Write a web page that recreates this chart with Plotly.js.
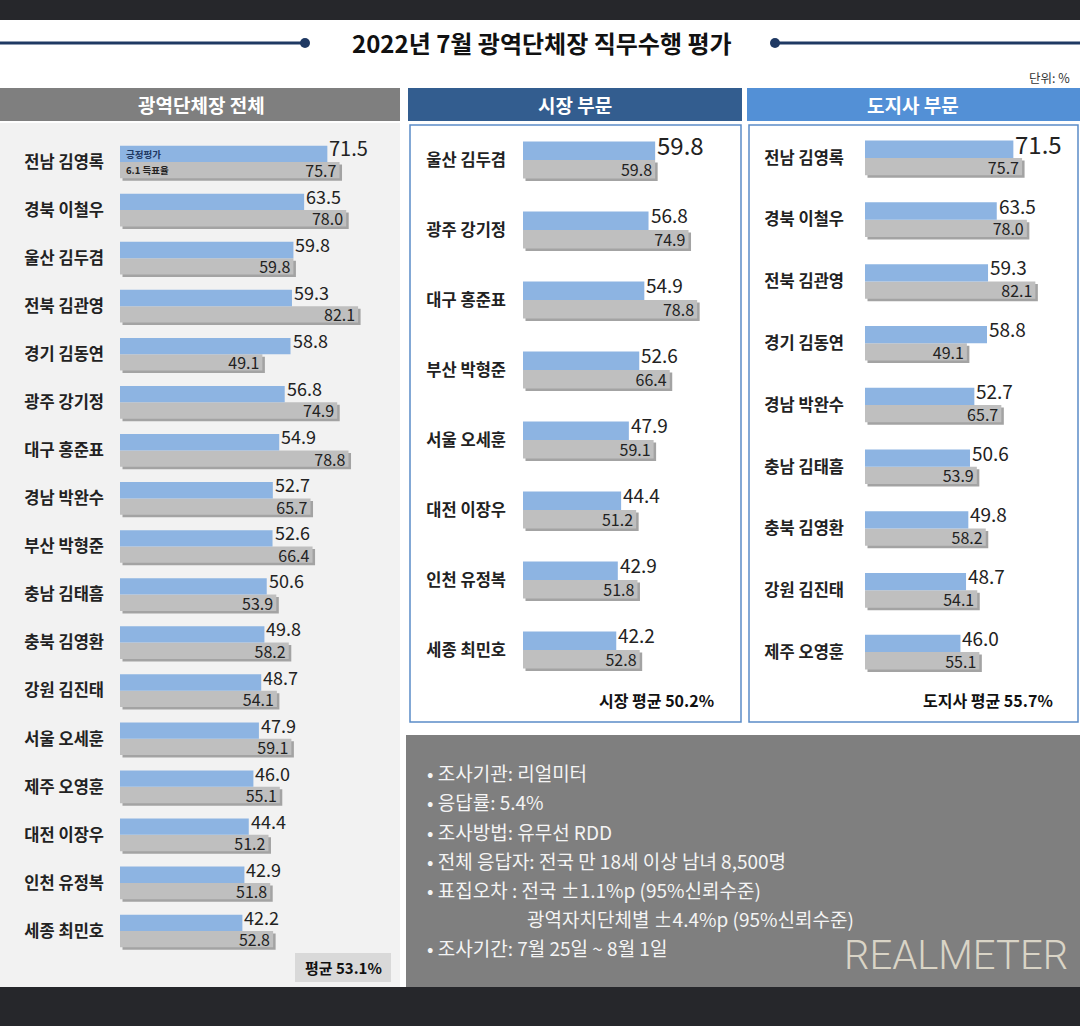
<!DOCTYPE html>
<html><head><meta charset="utf-8">
<script src="https://cdn.plot.ly/plotly-3.0.1.min.js"></script>
<style>html,body{margin:0;padding:0;background:#fff}#chart{width:1080px;height:1026px}</style>
</head><body><div id="chart"></div>
<script>
// ---- data ----
const allNames = ['전남 김영록','경북 이철우','울산 김두겸','전북 김관영','경기 김동연','광주 강기정','대구 홍준표','경남 박완수','부산 박형준','충남 김태흠','충북 김영환','강원 김진태','서울 오세훈','제주 오영훈','대전 이장우','인천 유정복','세종 최민호'];
const allApproval = [71.5,63.5,59.8,59.3,58.8,56.8,54.9,52.7,52.6,50.6,49.8,48.7,47.9,46.0,44.4,42.9,42.2];
const allVote = [75.7,78.0,59.8,82.1,49.1,74.9,78.8,65.7,66.4,53.9,58.2,54.1,59.1,55.1,51.2,51.8,52.8];

const mayorNames = ['울산 김두겸','광주 강기정','대구 홍준표','부산 박형준','서울 오세훈','대전 이장우','인천 유정복','세종 최민호'];
const mayorApproval = [59.8,56.8,54.9,52.6,47.9,44.4,42.9,42.2];
const mayorVote = [59.8,74.9,78.8,66.4,59.1,51.2,51.8,52.8];

const govNames = ['전남 김영록','경북 이철우','전북 김관영','경기 김동연','경남 박완수','충남 김태흠','충북 김영환','강원 김진태','제주 오영훈'];
const govApproval = [71.5,63.5,59.3,58.8,52.7,50.6,49.8,48.7,46.0];
const govVote = [75.7,78.0,82.1,49.1,65.7,53.9,58.2,54.1,55.1];

const averages = {all:'평균 53.1%', mayor:'시장 평균 50.2%', gov:'도지사 평균 55.7%'};
const legendLabels = ['긍정평가','6.1 득표율'];
const notes = ['• 조사기관: 리얼미터','• 응답률: 5.4%','• 조사방법: 유무선 RDD','• 전체 응답자: 전국 만 18세 이상 남녀 8,500명','• 표집오차 : 전국 ±1.1%p (95%신뢰수준)','광역자치단체별 ±4.4%p (95%신뢰수준)','• 조사기간: 7월 25일 ~ 8월 1일'];

// ---- layout helpers ----
const W = 1080, H = 1026;
const px = x => x / W;
const py = y => 1 - y / H;
const FONT = '"Noto Sans CJK KR", "Noto Sans", sans-serif';
const BLUE = '#8db4e2', GRAY = '#bfbfbf', SHADOW = '#a3a3a3', TXT = '#222';

const panels = [
  {names: allNames, a: allApproval, v: allVote, xa: 'x', ya: 'y', x0: 120, scale: 2.9, rmax: 95, yTop: 138, yBot: 955, h: 0.34, big: 20, small: 18, gsize: 16, standoff: 15},
  {names: mayorNames, a: mayorApproval, v: mayorVote, xa: 'x2', ya: 'y2', x0: 523, scale: 2.21, rmax: 88, yTop: 125, yBot: 685, h: 0.265, big: 24, small: 19, gsize: 16, standoff: 16},
  {names: govNames, a: govApproval, v: govVote, xa: 'x3', ya: 'y3', x0: 865, scale: 2.075, rmax: 93, yTop: 127, yBot: 683, h: 0.28, big: 24, small: 19, gsize: 16, standoff: 20}
];

const data = [];
const layout = {
  width: W, height: H, margin: {l: 0, r: 0, t: 0, b: 0},
  paper_bgcolor: '#ffffff', plot_bgcolor: 'rgba(0,0,0,0)',
  barmode: 'overlay', showlegend: false,
  font: {family: FONT, color: TXT},
  shapes: [], annotations: []
};
const A = layout.annotations, S = layout.shapes;

panels.forEach((p, i) => {
  const sfx = i === 0 ? '' : String(i + 1);
  const fmt = arr => arr.map(d => d.toFixed(1));
  const rowPx = (p.yBot - p.yTop) / p.names.length;
  // shadow under gray bars
  data.push({type: 'bar', orientation: 'h', x: p.v, y: p.names, xaxis: p.xa, yaxis: p.ya,
    base: 2.5 / p.scale, offset: 2.5 / rowPx, width: p.h,
    marker: {color: SHADOW, line: {width: 0}}, hoverinfo: 'skip'});
  // gray: 6.1 vote share
  data.push({type: 'bar', orientation: 'h', x: p.v, y: p.names, xaxis: p.xa, yaxis: p.ya,
    offset: 0, width: p.h, marker: {color: GRAY, line: {width: 0}},
    text: fmt(p.v), textposition: 'inside', insidetextanchor: 'end', constraintext: 'none',
    textfont: {size: p.gsize, color: TXT, family: FONT}, cliponaxis: false});
  // blue: approval
  data.push({type: 'bar', orientation: 'h', x: p.a, y: p.names, xaxis: p.xa, yaxis: p.ya,
    offset: -p.h, width: p.h, marker: {color: BLUE, line: {width: 0}}, cliponaxis: false});
  // blue value labels, placed at the bar ends through the axis scale
  p.a.forEach((val, k) => A.push({text: val.toFixed(1), x: val, y: p.names[k], xref: p.xa, yref: p.ya,
    xanchor: 'left', yanchor: 'middle', xshift: 1, yshift: p.h * rowPx / 2 + 6, showarrow: false, borderpad: 0,
    font: {family: FONT, size: k === 0 ? p.big : p.small, color: TXT}}));

  layout['xaxis' + sfx] = {domain: [px(p.x0), px(p.x0 + p.scale * p.rmax)], range: [0, p.rmax],
    visible: false, fixedrange: true, anchor: 'y' + sfx};
  layout['yaxis' + sfx] = {domain: [py(p.yBot), py(p.yTop)], type: 'category',
    range: [p.names.length - 0.5, -0.5], showgrid: false, zeroline: false, showline: false,
    ticks: '', ticklabelstandoff: p.standoff, anchor: 'x' + sfx, fixedrange: true,
    tickfont: {size: 16.5, color: TXT, family: FONT, weight: 'bold'}};
});

// dark bands
S.push({type: 'rect', xref: 'paper', yref: 'paper', x0: 0, x1: 1, y0: py(20), y1: 1, fillcolor: '#26272b', line: {width: 0}, layer: 'below'});
S.push({type: 'rect', xref: 'paper', yref: 'paper', x0: 0, x1: 1, y0: 0, y1: py(987), fillcolor: '#26272b', line: {width: 0}, layer: 'below'});
// title lines + dots
S.push({type: 'line', xref: 'paper', yref: 'paper', x0: 0, x1: px(305), y0: py(43), y1: py(43), line: {color: '#1f3963', width: 3}});
S.push({type: 'line', xref: 'paper', yref: 'paper', x0: px(775), x1: 1, y0: py(43), y1: py(43), line: {color: '#1f3963', width: 3}});
[305, 775].forEach(cx => S.push({type: 'circle', xref: 'paper', yref: 'paper', x0: px(cx - 5), x1: px(cx + 5), y0: py(48), y1: py(38), fillcolor: '#1f3963', line: {width: 0}}));
// headers
S.push({type: 'rect', xref: 'paper', yref: 'paper', x0: 0, x1: px(400), y0: py(121), y1: py(88), fillcolor: '#7f7f7f', line: {width: 0}, layer: 'below'});
S.push({type: 'rect', xref: 'paper', yref: 'paper', x0: px(408), x1: px(742), y0: py(121), y1: py(88), fillcolor: '#335d8f', line: {width: 0}, layer: 'below'});
S.push({type: 'rect', xref: 'paper', yref: 'paper', x0: px(747), x1: 1, y0: py(121), y1: py(88), fillcolor: '#5390d6', line: {width: 0}, layer: 'below'});
// left panel bg
S.push({type: 'rect', xref: 'paper', yref: 'paper', x0: 0, x1: px(400), y0: py(987), y1: py(123), fillcolor: '#f2f2f2', line: {width: 0}, layer: 'below'});
// mayor & governor boxes
S.push({type: 'rect', xref: 'paper', yref: 'paper', x0: px(410), x1: px(741), y0: py(722), y1: py(125), fillcolor: 'rgba(0,0,0,0)', line: {color: '#5b8cc8', width: 1.5}, layer: 'below'});
S.push({type: 'rect', xref: 'paper', yref: 'paper', x0: px(749), x1: px(1078), y0: py(722), y1: py(125), fillcolor: 'rgba(0,0,0,0)', line: {color: '#5b8cc8', width: 1.5}, layer: 'below'});
// notes box
S.push({type: 'rect', xref: 'paper', yref: 'paper', x0: px(406), x1: 1, y0: py(987), y1: py(735), fillcolor: '#7f7f7f', line: {width: 0}, layer: 'below'});
// average box (left)
S.push({type: 'rect', xref: 'paper', yref: 'paper', x0: px(295), x1: px(391), y0: py(982), y1: py(953), fillcolor: '#d9d9d9', line: {width: 0}, layer: 'below'});

const ann = (text, x, y, opts) => A.push(Object.assign({text, x: px(x), y: py(y), xref: 'paper', yref: 'paper', showarrow: false, xanchor: 'center', yanchor: 'middle', font: {family: FONT, size: 14, color: TXT}}, opts || {}));
ann('2022년 7월 광역단체장 직무수행 평가', 542, 43, {font: {family: FONT, size: 24, color: '#111', weight: 'bold'}});
ann('단위: %', 1072, 77, {xanchor: 'right', font: {family: FONT, size: 12.5, color: '#333'}});
ann('광역단체장 전체', 201, 104, {font: {family: FONT, size: 19, color: '#fff', weight: 'bold'}});
ann('시장 부문', 575, 104, {font: {family: FONT, size: 19, color: '#fff', weight: 'bold'}});
ann('도지사 부문', 913, 104, {font: {family: FONT, size: 19, color: '#fff', weight: 'bold'}});
ann(averages.all, 343, 967, {font: {family: FONT, size: 15, color: '#111', weight: 'bold'}});
ann(averages.mayor, 716, 700, {xanchor: 'right', font: {family: FONT, size: 16, color: '#111', weight: 'bold'}});
ann(averages.gov, 1055, 700, {xanchor: 'right', font: {family: FONT, size: 16, color: '#111', weight: 'bold'}});
// inline legend on first row of left chart
A.push({text: legendLabels[0], x: 0, y: allNames[0], xref: 'x', yref: 'y', xanchor: 'left', yanchor: 'middle', xshift: 4, yshift: 8, showarrow: false, font: {family: FONT, size: 9.5, color: '#1f3963', weight: 'bold'}});
A.push({text: legendLabels[1], x: 0, y: allNames[0], xref: 'x', yref: 'y', xanchor: 'left', yanchor: 'middle', xshift: 4, yshift: -8, showarrow: false, font: {family: FONT, size: 9.5, color: '#222', weight: 'bold'}});
// notes
const noteY = [772, 801, 831, 860, 889, 918, 947];
notes.forEach((t, k) => ann(t, k === 5 ? 525 : 425, noteY[k], {xanchor: 'left', font: {family: FONT, size: 19, color: '#f4f4f4'}}));
ann('REALMETER', 1070, 955, {xanchor: 'right', font: {family: 'Roboto, "Open Sans", sans-serif', size: 40, color: '#d9d4c6', weight: 300}});

Plotly.newPlot('chart', data, layout, {staticPlot: true});
</script></body></html>
